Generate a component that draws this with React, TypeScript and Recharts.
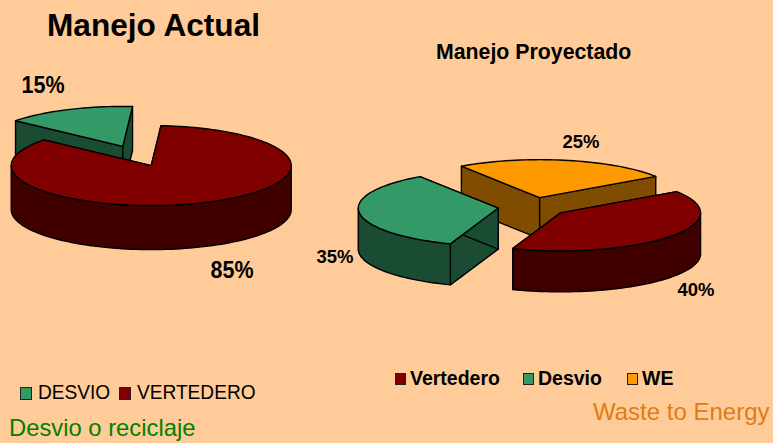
import { PieChart, Pie, Legend } from 'recharts';

const actualNames = ['DESVIO', 'VERTEDERO'];
const actualValues = [15, 85];
const actualColors = ['#339966', '#800000'];

// drawn back to front, the legend order is kept separately
const proyNames = ['WE', 'Vertedero', 'Desvio'];
const proyValues = [25, 40, 35];
const proyColors = ['#FF9900', '#800000', '#339966'];
const proyLegendOrder = ['Vertedero', 'Desvio', 'WE'];

const actualData = actualNames.map((name, i) => ({ name, value: actualValues[i], fill: actualColors[i] }));
const proyData = proyNames.map((name, i) => ({ name, value: proyValues[i], fill: proyColors[i] }));

const labelSpots: Record<string, [number, number]> = {
  DESVIO: [43, 93],
  VERTEDERO: [232, 278],
  WE: [581, 148],
  Vertedero: [696, 296],
  Desvio: [335, 263],
};

const FONT = '"Liberation Sans", Arial, sans-serif';
const RAD = Math.PI / 180;

// half the brightness, for the side walls
function darken(hex: string) {
  const n = parseInt(hex.slice(1), 16);
  const r = (n >> 16) >> 1;
  const g = ((n >> 8) & 255) >> 1;
  const b = (n & 255) >> 1;
  return `rgb(${r},${g},${b})`;
}

// Fake 3D wedge: flattens the sector recharts computed into an ellipse and extrudes it
function wedge(squash: number, depth: number, explode: number) {
  return (props: any) => {
    const { cx, cy, outerRadius: rx, startAngle, endAngle, midAngle, fill } = props;
    const ry = rx * squash;
    const ax = cx + explode * rx * Math.cos(midAngle * RAD);
    const ay = cy - explode * ry * Math.sin(midAngle * RAD);
    const at = (a: number): [number, number] => [ax + rx * Math.cos(a * RAD), ay - ry * Math.sin(a * RAD)];

    const arc: number[] = [];
    const steps = Math.ceil(Math.abs(endAngle - startAngle) / 2);
    for (let i = 0; i <= steps; i++) arc.push(startAngle + ((endAngle - startAngle) * i) / steps);

    const front = arc.filter((a) => Math.sin(a * RAD) <= 0);
    const side = darken(fill);
    const line = (pts: [number, number][]) => pts.map((p, i) => `${i ? 'L' : 'M'}${p[0]},${p[1]}`).join(' ') + ' Z';
    const down = (p: [number, number]): [number, number] => [p[0], p[1] + depth];
    const wall = (a: number) => line([[ax, ay], at(a), down(at(a)), [ax, ay + depth]]);
    const common = { stroke: '#000', strokeWidth: 1.4, strokeLinejoin: 'round' as const };

    return (
      <g>
        <path d={wall(startAngle)} fill={side} {...common} />
        <path d={wall(endAngle)} fill={side} {...common} />
        {front.length > 1 && (
          <path d={line([...front.map(at), ...front.slice().reverse().map((a) => down(at(a)))])} fill={side} {...common} />
        )}
        <path d={line([[ax, ay], ...arc.map(at)])} fill={fill} {...common} />
      </g>
    );
  };
}

// the source text is tall and narrow, so it gets squeezed to the width it had
function percentLabel(size: number, width: number) {
  return (props: any) => {
    const spot = labelSpots[props.name];
    return (
      <text
        x={spot[0]}
        y={spot[1]}
        textAnchor="middle"
        fontFamily={FONT}
        fontWeight="bold"
        fontSize={size}
        fill="#000"
        textLength={width}
        lengthAdjust="spacingAndGlyphs"
      >
        {`${Math.round(props.percent * 100)}%`}
      </text>
    );
  };
}

function ActualLegend({ payload = [] }: any) {
  const items = actualNames.map((n) => payload.find((p: any) => p.value === n)).filter(Boolean);
  const slots = [99, 170];
  return (
    <div style={{ display: 'flex', fontFamily: FONT, fontSize: 21, color: '#000', lineHeight: '22px' }}>
      {items.map((p: any, i: number) => (
        <div key={p.value} style={{ display: 'flex', alignItems: 'center', width: slots[i], whiteSpace: 'nowrap' }}>
          <span style={{ width: 10, height: 11, background: p.color, border: '1px solid #222', marginRight: 6, marginTop: 3, flex: 'none' }} />
          <span style={{ display: 'inline-block', transform: 'scaleX(0.91)', transformOrigin: 'left' }}>{p.value}</span>
        </div>
      ))}
    </div>
  );
}

function ProyLegend({ payload = [] }: any) {
  const items = proyLegendOrder.map((n) => payload.find((p: any) => p.value === n)).filter(Boolean);
  const slots = [128, 104, 60];
  return (
    <div style={{ display: 'flex', fontFamily: FONT, fontSize: 19.5, fontWeight: 'bold', color: '#000', lineHeight: '20px' }}>
      {items.map((p: any, i: number) => (
        <div key={p.value} style={{ display: 'flex', alignItems: 'center', width: slots[i], whiteSpace: 'nowrap' }}>
          <span style={{ width: 9, height: 10, background: p.color, border: '1px solid #222', marginRight: 4, marginTop: 2, flex: 'none' }} />
          {p.value}
        </div>
      ))}
    </div>
  );
}

const layer = { position: 'absolute', left: 0, top: 0 } as const;
const noMargin = { top: 0, right: 0, bottom: 0, left: 0 };

export default function App() {
  return (
    <div style={{ position: 'absolute', left: 0, top: 0, width: 773, height: 443, background: '#FFCC99', overflow: 'hidden' }}>
      <div style={layer}>
        <PieChart width={773} height={443} margin={noMargin}>
          <Pie
            data={actualData}
            dataKey="value"
            nameKey="name"
            cx={137}
            cy={156}
            outerRadius={140}
            startAngle={140}
            endAngle={-220}
            shape={wedge(40 / 140, 44, 0.26)}
            label={percentLabel(24, 43)}
            labelLine={false}
            isAnimationActive={false}
          />
          <Legend
            content={ActualLegend}
            wrapperStyle={{ position: 'absolute', left: 20, top: 381, width: 300, bottom: 'auto' }}
          />
        </PieChart>
      </div>
      <div style={layer}>
        <PieChart width={773} height={443} margin={noMargin}>
          <Pie
            data={proyData}
            dataKey="value"
            nameKey="name"
            cx={533}
            cy={207}
            outerRadius={140}
            startAngle={124}
            endAngle={-236}
            shape={wedge(38 / 140, 41, 0.25)}
            label={percentLabel(19, 37)}
            labelLine={false}
            isAnimationActive={false}
          />
          <Legend
            content={ProyLegend}
            wrapperStyle={{ position: 'absolute', left: 395, top: 368, width: 370, bottom: 'auto' }}
          />
        </PieChart>
      </div>
      <div style={{ ...layer, left: 47, top: 6.5, fontFamily: FONT, fontWeight: 'bold', fontSize: 31.6, whiteSpace: 'nowrap' }}>Manejo Actual</div>
      <div style={{ ...layer, left: 436, top: 40, fontFamily: FONT, fontWeight: 'bold', fontSize: 21.3, whiteSpace: 'nowrap' }}>Manejo Proyectado</div>
      <div style={{ ...layer, left: 9, top: 413.5, fontFamily: FONT, fontSize: 23.8, color: '#008000', whiteSpace: 'nowrap' }}>Desvio o reciclaje</div>
      <div style={{ ...layer, left: 593, top: 398.3, fontFamily: FONT, fontSize: 24, color: '#E07C12', whiteSpace: 'nowrap' }}>Waste to Energy</div>
    </div>
  );
}
